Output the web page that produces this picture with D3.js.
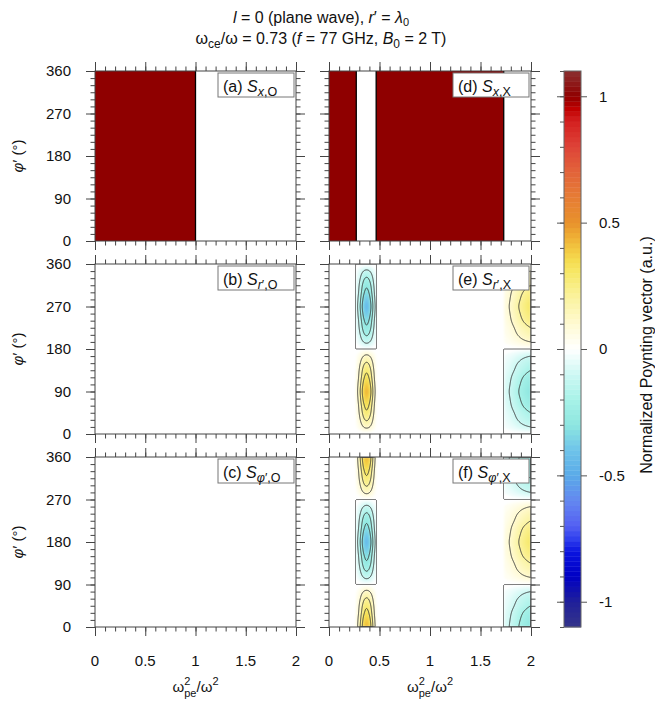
<!DOCTYPE html>
<html><head><meta charset="utf-8">
<script src="https://cdn.jsdelivr.net/npm/d3@7"></script>
<style>
html,body{margin:0;padding:0;background:#fff;}
svg{display:block;font-family:"Liberation Sans",Arial,Helvetica,sans-serif;}
</style></head><body>
<svg id="chart" width="655" height="702"></svg>
<script>
// ---------------- data ----------------
const xTickValues = [0, 0.5, 1, 1.5, 2];
const xTickLabels = ["0", "0.5", "1", "1.5", "2"];
const phiTickValues = [0, 90, 180, 270, 360];
const phiTickLabels = ["0", "90", "180", "270", "360"];
const colorbarTicks = [-1, -0.5, 0, 0.5, 1];
const colorbarTickLabels = ["-1", "-0.5", "0", "0.5", "1"];

const panelIds = ["a", "b", "c", "d", "e", "f"];
const panelComponents = ["x", "r", "φ", "x", "r", "φ"];
const panelPrimes = ["", "′", "′", "", "′", "′"];
const panelModes = ["O", "O", "O", "X", "X", "X"];

// normalized S_x inside propagating intervals of omega_pe^2/omega^2
const sxOIntervals = [[0, 1.0]];
const sxXIntervals = [[0, 0.27], [0.467, 1.73]];
const sxLevel = 1.0;

// evanescent X-mode bands: phi nodes (deg) and values
const phiNodes = [0,15,30,45,60,75,90,105,120,135,150,165,180,195,210,225,240,255,270,285,300,315,330,345,360];
const lowBandX      = [0.27, 0.29, 0.31, 0.33, 0.35, 0.37, 0.39, 0.41, 0.43, 0.45, 0.467];
const lowBandWeight = [0.17, 0.28, 0.48, 0.71, 0.91, 1.00, 0.94, 0.76, 0.52, 0.29, 0.17];
const highBandX      = [1.73, 1.76, 1.79, 1.82, 1.85, 1.88, 1.91, 1.94, 1.97, 2.0];
const highBandWeight = [0.20, 0.27, 0.35, 0.45, 0.56, 0.67, 0.77, 0.86, 0.94, 1.00];
// S_r',X
const srXLowPhi  = [0,0.12,0.21,0.28,0.33,0.39,0.43,0.39,0.33,0.28,0.21,0.12,0,-0.12,-0.21,-0.28,-0.33,-0.39,-0.43,-0.39,-0.33,-0.28,-0.21,-0.12,0];
const srXHighPhi = [0,-0.10,-0.16,-0.20,-0.25,-0.28,-0.30,-0.28,-0.25,-0.20,-0.16,-0.10,0,0.10,0.16,0.20,0.25,0.28,0.30,0.28,0.25,0.20,0.16,0.10,0];
// S_phi',X
const sphXLowPhi  = [0.43,0.39,0.33,0.28,0.21,0.12,0,-0.12,-0.21,-0.28,-0.33,-0.39,-0.43,-0.39,-0.33,-0.28,-0.21,-0.12,0,0.12,0.21,0.28,0.33,0.39,0.43];
const sphXHighPhi = [-0.30,-0.28,-0.25,-0.20,-0.16,-0.10,0,0.10,0.16,0.20,0.25,0.28,0.30,0.28,0.25,0.20,0.16,0.10,0,-0.10,-0.16,-0.20,-0.25,-0.28,-0.30];
const contourLevels = [0.1, 0.2, 0.3];

// colour map
const cStops  = [-1.1,-1.0,-0.9,-0.8,-0.75,-0.7,-0.6,-0.5,-0.4,-0.3,-0.2,-0.1,0,0.1,0.2,0.3,0.35,0.4,0.45,0.5,0.6,0.7,0.8,0.9,0.95,1.0,1.1];
const cColors = ["#34348a","#20209a","#0000c4","#0a14e0","#3040ee","#5460f2","#6488f0","#5aaae8","#6ec4ea","#8ee6e0","#a8f2e8","#cdf8f4","#ffffff","#fffad2","#fbf3a0","#f7e868","#f5dc50","#f2c640","#eeac34","#e8922c","#e67c34","#e2643a","#de4438","#d42020","#c00000","#8f0000","#8b3030"];

// ---------------- layout ----------------
const svg = d3.select("#chart");
const colRange = [[95, 296], [329, 531]];
const rowTop = [71, 264, 457];
const PH = 170;
const axisColor = "#444";
const color = d3.scaleLinear().domain(cStops).range(cColors).interpolate(d3.interpolateRgb).clamp(true);

const defs = svg.append("defs");
defs.append("filter").attr("id", "soft").attr("x", "-10%").attr("y", "-10%").attr("width", "120%").attr("height", "120%")
  .append("feGaussianBlur").attr("stdDeviation", 1.2);

function cr(nodes, vals, t) {
  const n = nodes.length;
  if (t <= nodes[0]) return vals[0];
  if (t >= nodes[n - 1]) return vals[n - 1];
  let i = d3.bisectRight(nodes, t) - 1; if (i > n - 2) i = n - 2;
  const u = (t - nodes[i]) / (nodes[i + 1] - nodes[i]);
  const p0 = vals[Math.max(i - 1, 0)], p1 = vals[i], p2 = vals[i + 1], p3 = vals[Math.min(i + 2, n - 1)];
  return 0.5 * ((2 * p1) + (-p0 + p2) * u + (2 * p0 - 5 * p1 + 4 * p2 - p3) * u * u + (-p0 + 3 * p1 - 3 * p2 + p3) * u * u * u);
}

const panels = [
  { type: "sx", intervals: sxOIntervals },
  { type: "field", bands: [] },
  { type: "field", bands: [] },
  { type: "sx", intervals: sxXIntervals },
  { type: "field", bands: [
      { x: lowBandX, w: lowBandWeight, phi: srXLowPhi },
      { x: highBandX, w: highBandWeight, phi: srXHighPhi }] },
  { type: "field", bands: [
      { x: lowBandX, w: lowBandWeight, phi: sphXLowPhi },
      { x: highBandX, w: highBandWeight, phi: sphXHighPhi }] }
];

function drawField(g, xs, ys, bands) {
  if (!bands.length) return;
  const NX = 202, NY = 170;
  const vals = new Float64Array(NX * NY);
  for (let j = 0; j < NY; j++) {
    const phi = 360 - (j + 0.5) / NY * 360;
    for (let i = 0; i < NX; i++) {
      const x = (i + 0.5) / NX * 2;
      let v = 0;
      for (const b of bands) {
        if (x >= b.x[0] && x <= b.x[b.x.length - 1]) v = cr(b.x, b.w, x) * cr(phiNodes, b.phi, phi);
      }
      vals[j * NX + i] = v;
    }
  }
  const neg = vals.map(v => -v);
  const x0 = xs.range()[0], sxp = (xs.range()[1] - x0) / NX;
  const y0 = ys.range()[1], syp = (ys.range()[0] - y0) / NY;
  const proj = d3.geoTransform({ point(px, py) { this.stream.point(x0 + px * sxp, y0 + py * syp); } });
  const path = d3.geoPath(proj);
  const fillG = g.append("g").attr("filter", "url(#soft)");
  const steps = d3.range(1, 56).map(k => k * 0.02);
  const maxV = d3.max(vals), minV = d3.min(vals);
  const posT = steps.filter(t => t <= maxV);
  const negT = steps.filter(t => t <= -minV);
  if (posT.length) d3.contours().size([NX, NY]).thresholds(posT)(vals)
    .forEach(c => fillG.append("path").attr("d", path(c)).attr("fill", color(c.value + 0.01)));
  if (negT.length) d3.contours().size([NX, NY]).thresholds(negT)(neg)
    .forEach(c => fillG.append("path").attr("d", path(c)).attr("fill", color(-c.value - 0.01)));
  const lineG = g.append("g").attr("fill", "none");
  d3.contours().size([NX, NY]).thresholds(contourLevels)(vals)
    .forEach(c => lineG.append("path").attr("d", path(c)).attr("stroke", "#333").attr("stroke-width", 0.9));
  d3.contours().size([NX, NY]).thresholds(contourLevels)(neg)
    .forEach(c => lineG.append("path").attr("d", path(c)).attr("stroke", "#333").attr("stroke-width", 0.9));
  d3.contours().size([NX, NY]).thresholds([1e-4])(neg)
    .forEach(c => lineG.append("path").attr("d", path(c)).attr("stroke", "#555").attr("stroke-width", 1));
}

panels.forEach((p, k) => {
  const col = Math.floor(k / 3), row = k % 3;
  const [xa, xb] = colRange[col];
  const yt = rowTop[row], yb = yt + PH;
  const xs = d3.scaleLinear().domain([0, 2]).range([xa, xb]);
  const ys = d3.scaleLinear().domain([0, 360]).range([yb, yt]);
  const clipId = "clip" + k;
  defs.append("clipPath").attr("id", clipId).append("rect").attr("x", xa).attr("y", yt).attr("width", xb - xa).attr("height", PH);
  const g = svg.append("g");
  const inner = g.append("g").attr("clip-path", `url(#${clipId})`);
  inner.append("rect").attr("x", xa).attr("y", yt).attr("width", xb - xa).attr("height", PH).attr("fill", "#fff");

  if (p.type === "sx") {
    p.intervals.forEach(iv => {
      inner.append("rect").attr("x", xs(iv[0])).attr("y", yt).attr("width", xs(iv[1]) - xs(iv[0])).attr("height", PH)
        .attr("fill", color(sxLevel));
    });
    p.intervals.flat().filter(v => v > 0 && v < 2).forEach(v => {
      inner.append("line").attr("x1", xs(v)).attr("x2", xs(v)).attr("y1", yt).attr("y2", yb)
        .attr("stroke", "#000").attr("stroke-width", 1.3);
    });
  } else {
    drawField(inner, xs, ys, p.bands);
  }

  // axes: ticks outward on all sides
  const minorX = d3.range(0, 2.0001, 0.1);
  const minorY = d3.range(0, 361, 15);
  const axes = [
    [d3.axisLeft(ys), `translate(${xa},0)`, minorY, phiTickValues],
    [d3.axisRight(ys), `translate(${xb},0)`, minorY, phiTickValues],
    [d3.axisBottom(xs), `translate(0,${yb})`, minorX, xTickValues],
    [d3.axisTop(xs), `translate(0,${yt})`, minorX, xTickValues]
  ];
  axes.forEach(([ax, tr, minor, major]) => {
    const a1 = g.append("g").attr("transform", tr).style("color", axisColor)
      .call(ax.tickValues(minor).tickSize(4.5).tickSizeOuter(0).tickFormat(""));
    a1.select(".domain").remove();
    const a2 = g.append("g").attr("transform", tr).style("color", axisColor)
      .call(ax.tickValues(major).tickSize(9).tickSizeOuter(0).tickFormat(""));
    a2.select(".domain").remove();
  });
  g.append("rect").attr("x", xa).attr("y", yt).attr("width", xb - xa).attr("height", PH)
    .attr("fill", "none").attr("stroke", axisColor).attr("stroke-width", 1);

  if (col === 0) {
    phiTickValues.forEach((v, i) => {
      g.append("text").attr("x", 71).attr("y", ys(v)).attr("dy", "0.36em").attr("text-anchor", "end")
        .attr("font-size", 15).attr("fill", "#111").text(phiTickLabels[i]);
    });
    const yl = g.append("text").attr("transform", `translate(23,${yt + PH / 2}) rotate(-90)`)
      .attr("text-anchor", "middle").attr("font-size", 15).attr("fill", "#111");
    yl.append("tspan").attr("font-style", "italic").text("φ");
    yl.append("tspan").text("′ (°)");
  }
  if (row === 2) {
    xTickValues.forEach((v, i) => {
      g.append("text").attr("x", xs(v)).attr("y", 661).attr("dy", "0.36em").attr("text-anchor", "middle")
        .attr("font-size", 15).attr("fill", "#111").text(xTickLabels[i]);
    });
    const xl = g.append("text").attr("x", (xa + xb) / 2).attr("y", 692).attr("text-anchor", "middle")
      .attr("font-size", 15).attr("fill", "#111");
    xl.append("tspan").text("ω");
    xl.append("tspan").attr("dy", -7).attr("font-size", 11).text("2");
    xl.append("tspan").attr("dx", -6.1).attr("dy", 12).attr("font-size", 11).text("pe");
    xl.append("tspan").attr("dy", -5).text("/ω");
    xl.append("tspan").attr("dy", -7).attr("font-size", 11).text("2");
  }

  // panel label box
  const bw = 76, bh = 24;
  g.append("rect").attr("x", xb - bw - 2).attr("y", yt + 2).attr("width", bw).attr("height", bh)
    .attr("fill", "#fff").attr("stroke", "#777").attr("stroke-width", 1);
  const lt = g.append("text").attr("x", xb - bw + 3).attr("y", yt + 21).attr("font-size", 16).attr("fill", "#111");
  lt.append("tspan").text(`(${panelIds[k]}) `);
  lt.append("tspan").attr("font-style", "italic").text("S");
  lt.append("tspan").attr("dy", 4).attr("font-size", 12.5).attr("font-style", "italic").text(panelComponents[k]);
  lt.append("tspan").attr("font-size", 12.5).text(panelPrimes[k] + "," + panelModes[k]);
});

// ---------------- colour bar ----------------
const cbX = 564, cbW = 17;
const yC = d3.scaleLinear().domain([-1.1, 1.1]).range([627, 71]);
const cbG = svg.append("g");
d3.range(-55, 55).forEach(k => {
  const lo = k * 0.02, hi = lo + 0.02;
  cbG.append("rect").attr("x", cbX).attr("y", yC(hi)).attr("width", cbW).attr("height", yC(lo) - yC(hi) + 0.4)
    .attr("fill", color(lo + 0.01));
});
cbG.append("rect").attr("x", cbX).attr("y", 71).attr("width", cbW).attr("height", 556)
  .attr("fill", "none").attr("stroke", "#666").attr("stroke-width", 1);
const cbMinor = d3.range(-11, 12).map(k => k / 10);
const al = cbG.append("g").attr("transform", `translate(${cbX},0)`).style("color", "#555")
  .call(d3.axisLeft(yC).tickValues(cbMinor).tickSize(4).tickSizeOuter(0).tickFormat(""));
al.select(".domain").remove();
const al2 = cbG.append("g").attr("transform", `translate(${cbX},0)`).style("color", "#555")
  .call(d3.axisLeft(yC).tickValues(colorbarTicks).tickSize(7).tickSizeOuter(0).tickFormat(""));
al2.select(".domain").remove();
const ar = cbG.append("g").attr("transform", `translate(${cbX + cbW},0)`).style("color", "#555")
  .call(d3.axisRight(yC).tickValues(colorbarTicks).tickSize(6).tickSizeOuter(0).tickFormat(""));
ar.select(".domain").remove();
colorbarTicks.forEach((v, i) => {
  cbG.append("text").attr("x", 599).attr("y", yC(v)).attr("dy", "0.36em").attr("font-size", 15).attr("fill", "#111")
    .text(colorbarTickLabels[i]);
});
cbG.append("text").attr("transform", `translate(652,355) rotate(-90)`).attr("text-anchor", "middle")
  .attr("font-size", 16).attr("fill", "#111").text("Normalized Poynting vector (a.u.)");

// ---------------- title ----------------
const t1 = svg.append("text").attr("x", 321).attr("y", 23).attr("text-anchor", "middle").attr("font-size", 16).attr("fill", "#111");
t1.append("tspan").attr("font-style", "italic").text("l");
t1.append("tspan").text(" = 0 (plane wave), ");
t1.append("tspan").attr("font-style", "italic").text("r");
t1.append("tspan").text("′ = ");
t1.append("tspan").attr("font-style", "italic").text("λ");
t1.append("tspan").attr("dy", 3).attr("font-size", 11).text("0");
const t2 = svg.append("text").attr("x", 321).attr("y", 44).attr("text-anchor", "middle").attr("font-size", 16).attr("fill", "#111");
t2.append("tspan").text("ω");
t2.append("tspan").attr("dy", 4).attr("font-size", 12).text("ce");
t2.append("tspan").attr("dy", -4).text("/ω = 0.73 (");
t2.append("tspan").attr("font-style", "italic").text("f");
t2.append("tspan").text(" = 77 GHz, ");
t2.append("tspan").attr("font-style", "italic").text("B");
t2.append("tspan").attr("dy", 4).attr("font-size", 12).text("0");
t2.append("tspan").attr("dy", -4).text(" = 2 T)");
</script>
</body></html>
